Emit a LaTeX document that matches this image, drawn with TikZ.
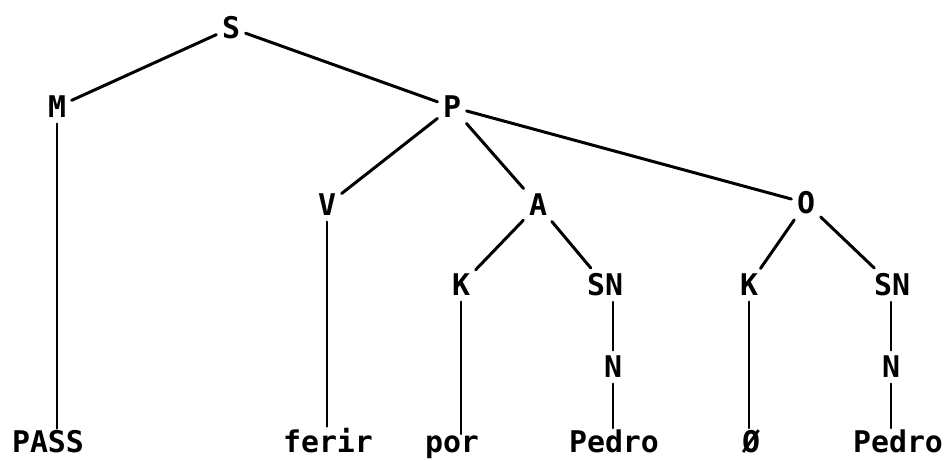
\documentclass[tikz,border=0pt]{standalone}
\usepackage{fontspec}
\setmonofont{DejaVu Sans Mono}
\usepackage{tikz}
\usetikzlibrary{calc}

\tikzset{
    kat/.style={font=\ttfamily\bfseries\fontsize{17}{20}\selectfont, inner sep=3pt},
    kata/.style={kat, inner sep=1pt, text depth=0pt, anchor=base},
    cabang/.style={line width=1.7pt, line cap=round},
    tegak/.style={line width=1.1pt, line cap=round}
}

\begin{document}
\begin{tikzpicture}
    %BATAS
    \useasboundingbox (0,0) rectangle (19,9.22);
    %SIMPUL
    \node[kat] (S) at (4.62,8.66) {S};
    \node[kat] (M) at (1.14,7.08) {M};
    \node[kat] (P) at (9.04,7.08) {P};
    \node[kat] (V) at (6.54,5.12) {V};
    \node[kat] (A) at (10.76,5.12) {A};
    \node[kat] (O) at (16.12,5.16) {O};
    \node[kat] (KA) at (9.22,3.52) {K};
    \node[kat] (SNA) at (12.10,3.52) {SN};
    \node[kat] (KO) at (14.98,3.52) {K};
    \node[kat] (SNO) at (17.84,3.52) {SN};
    \node[kat] (NA) at (12.26,1.88) {N};
    \node[kat] (NO) at (17.82,1.88) {N};
    %KATA
    \node[kata] (pass) at (0.96,0.16) {PASS};
    \node[kata] (ferir) at (6.56,0.16) {ferir};
    \node[kata] (por) at (9.04,0.16) {por};
    \node[kata] (pedroA) at (12.28,0.16) {Pedro};
    \node[kata] (nol) at (15.02,0.16) {Ø};
    \node[kata] (pedroO) at (17.96,0.16) {Pedro};
    %CABANG
    \draw[cabang] (S) -- (M);
    \draw[cabang] (S) -- (P);
    \draw[cabang] (P) -- (V);
    \draw[cabang] (P) -- (A);
    \draw[cabang] (P) -- (O);
    \draw[cabang] (A) -- (KA);
    \draw[cabang] (A) -- (SNA);
    \draw[cabang] (O) -- (KO);
    \draw[cabang] (O) -- (SNO);
    %GARIS TEGAK
    \draw[tegak] (M) -- (M |- pass.north);
    \draw[tegak] (V) -- (V |- ferir.north);
    \draw[tegak] (KA) -- (KA |- por.north);
    \draw[tegak] (SNA.south -| NA) -- (NA);
    \draw[tegak] (NA) -- (NA |- pedroA.north);
    \draw[tegak] (KO) -- (KO |- nol.north);
    \draw[tegak] (SNO.south -| NO) -- (NO);
    \draw[tegak] (NO) -- (NO |- pedroO.north);
\end{tikzpicture}
\end{document}
